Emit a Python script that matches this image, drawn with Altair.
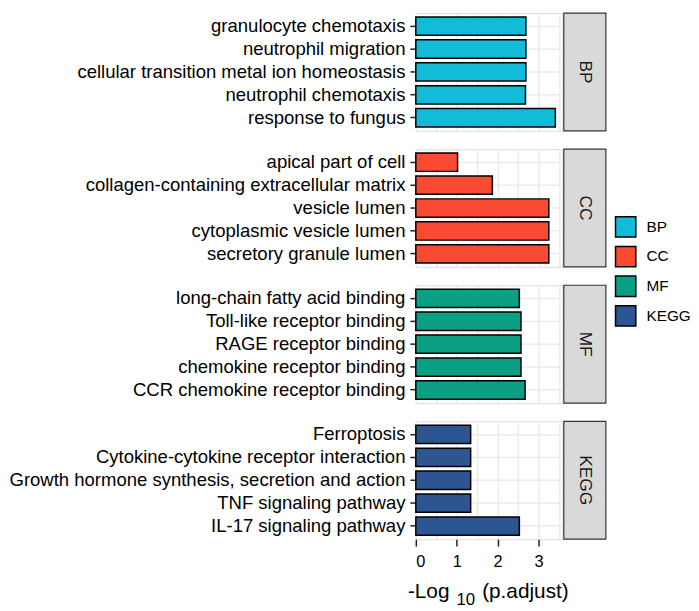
import altair as alt
import pandas as pd

# ---- data ----
categories = ["BP", "CC", "MF", "KEGG"]
cat_colors = ["#12BCD9", "#FA4A31", "#0BA083", "#2C5592"]

bp_terms = ["granulocyte chemotaxis", "neutrophil migration",
            "cellular transition metal ion homeostasis", "neutrophil chemotaxis",
            "response to fungus"]
bp_vals = [2.69, 2.69, 2.69, 2.68, 3.41]

cc_terms = ["apical part of cell", "collagen-containing extracellular matrix",
            "vesicle lumen", "cytoplasmic vesicle lumen", "secretory granule lumen"]
cc_vals = [1.02, 1.87, 3.25, 3.25, 3.25]

mf_terms = ["long-chain fatty acid binding", "Toll-like receptor binding",
            "RAGE receptor binding", "chemokine receptor binding",
            "CCR chemokine receptor binding"]
mf_vals = [2.53, 2.57, 2.57, 2.57, 2.67]

kegg_terms = ["Ferroptosis", "Cytokine-cytokine receptor interaction",
              "Growth hormone synthesis, secretion and action",
              "TNF signaling pathway", "IL-17 signaling pathway"]
kegg_vals = [1.34, 1.34, 1.34, 1.34, 2.53]

x_ticks = [0, 0.5, 1, 1.5, 2, 2.5, 3, 3.5]
x_max = 3.58

W = 148
H = 119
FONT = "Liberation Sans"

x_scale = alt.Scale(domain=[0, x_max], nice=False, zero=True)
color_scale = alt.Scale(domain=categories, range=cat_colors)

legend = alt.Legend(
    title=None, orient="none", legendX=W + 53, legendY=205,
    symbolType="square", symbolSize=420, symbolStrokeColor="black",
    symbolStrokeWidth=1.5, symbolOpacity=1, labelFontSize=15.5,
    labelFont=FONT, labelColor="black", rowPadding=2, labelOffset=10, padding=0,
)


def make_panel(cat, terms, vals, bottom=False):
    df = pd.DataFrame({"term": terms, "value": vals, "category": cat,
                       "order": list(range(len(terms)))})
    if bottom:
        xaxis = alt.Axis(
            values=x_ticks, grid=True, gridColor="#EBEBEB", gridWidth=1.5,
            domain=False, title=None,
            labelExpr="datum.value % 1 == 0 ? datum.value + '' : ''",
            labelFontSize=16.5, labelFont=FONT, labelColor="black", labelPadding=8,
            tickSize=7, tickWidth=1.5,
            tickColor={"condition": {"test": "datum.value % 1 != 0", "value": "transparent"},
                       "value": "#222222"},
        )
    else:
        xaxis = alt.Axis(values=x_ticks, grid=True, gridColor="#EBEBEB", gridWidth=1.5,
                         domain=False, labels=False, ticks=False, title=None)
    yaxis = alt.Axis(
        title=None, domain=False, grid=True, gridColor="#EBEBEB", gridWidth=1.5,
        bandPosition=0.5, labelFontSize=18.7, labelFont=FONT, labelColor="black",
        labelLimit=0, labelPadding=5, tickSize=6, tickWidth=1.5, tickColor="#222222",
    )
    bars = alt.Chart(df).mark_bar(stroke="black", strokeWidth=1.5).encode(
        x=alt.X("value:Q", scale=x_scale, axis=xaxis),
        y=alt.Y("term:N", sort=alt.EncodingSortField(field="order", op="min"),
                scale=alt.Scale(paddingInner=0.2, paddingOuter=0.17), axis=yaxis),
        color=alt.Color("category:N", scale=color_scale, legend=legend),
    )
    sdata = alt.Data(values=[{"c": cat}])
    strip = alt.Chart(sdata).mark_rect(fill="#D9D9D9", stroke="#333333", strokeWidth=1.2).encode(
        x=alt.value(W + 1.5), x2=alt.value(W + 44), y=alt.value(0), y2=alt.value(H)
    )
    strip_text = alt.Chart(sdata).mark_text(
        angle=90, fontSize=17.5, font=FONT, color="#1A1A1A", align="center", baseline="middle"
    ).encode(text="c:N", x=alt.value(W + 23), y=alt.value(H / 2))
    layers = [bars, strip, strip_text]
    if bottom:
        tdata = alt.Data(values=[{"a": "-Log", "b": "10", "c": "(p.adjust)"}])
        t1 = alt.Chart(tdata).mark_text(fontSize=21, font=FONT, color="black", align="left",
                                        baseline="alphabetic").encode(
            text="a:N", x=alt.value(-8), y=alt.value(H + 59))
        t2 = alt.Chart(tdata).mark_text(fontSize=17, font=FONT, color="black", align="left",
                                        baseline="alphabetic").encode(
            text="b:N", x=alt.value(41), y=alt.value(H + 67))
        t3 = alt.Chart(tdata).mark_text(fontSize=21, font=FONT, color="black", align="left",
                                        baseline="alphabetic").encode(
            text="c:N", x=alt.value(67), y=alt.value(H + 59))
        layers += [t1, t2, t3]
    return alt.layer(*layers).properties(width=W, height=H)


panels = [
    make_panel("BP", bp_terms, bp_vals),
    make_panel("CC", cc_terms, cc_vals),
    make_panel("MF", mf_terms, mf_vals),
    make_panel("KEGG", kegg_terms, kegg_vals, bottom=True),
]

chart = alt.vconcat(*panels, spacing=14.5).resolve_scale(
    x="shared", y="independent", color="shared"
).resolve_axis(x="independent", y="independent").resolve_legend(color="shared").properties(
    padding=0
).configure_view(stroke="black", strokeWidth=2).configure(font=FONT)

chart.save("out.html", embed_options={"renderer": "svg", "actions": False})
